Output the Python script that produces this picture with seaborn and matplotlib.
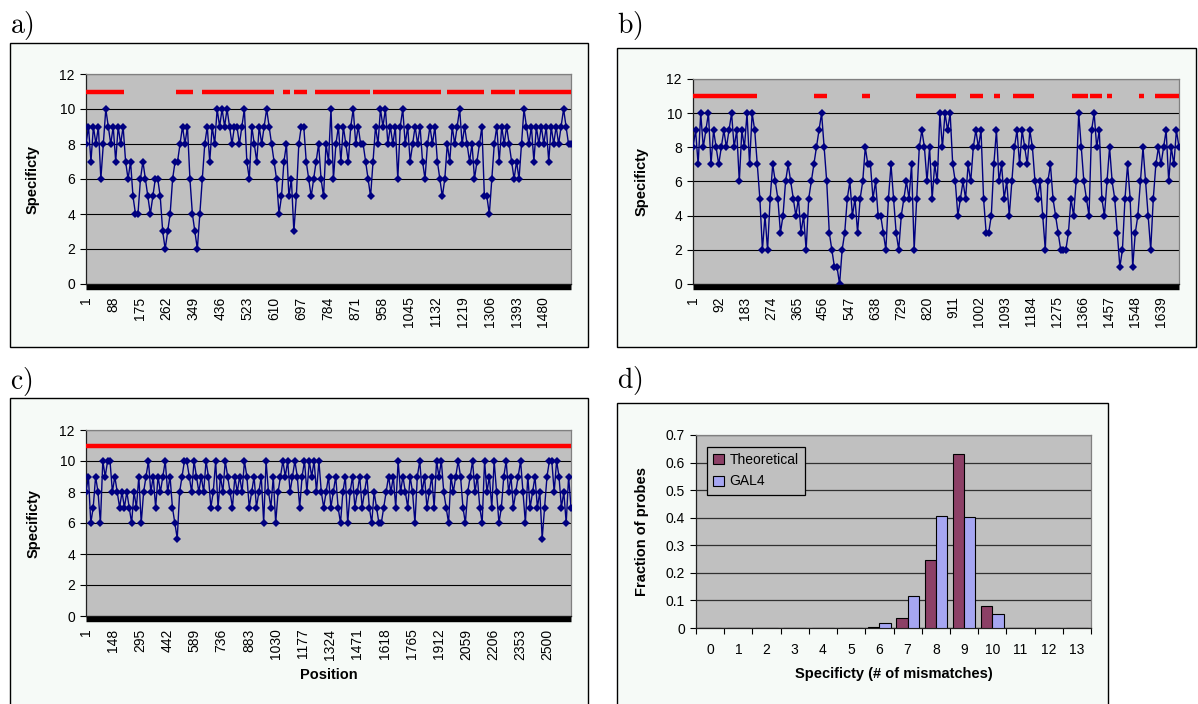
import numpy as np
import pandas as pd
import matplotlib
matplotlib.use("Agg")
import matplotlib.pyplot as plt
import seaborn as sns
from matplotlib.patches import Rectangle
from matplotlib.transforms import ScaledTranslation
from matplotlib.ticker import FuncFormatter, FixedLocator

# ------------------------------------------------------------------ data
# panel a : specificity sampled every 8 positions
a_step = 8
a_vals = [8, 9, 7, 9, 8, 9, 6, 8, 10, 9,
          8, 9, 7, 9, 8, 9, 7, 6, 7, 5,
          4, 4, 6, 7, 6, 5, 4, 5, 6, 6,
          5, 3, 2, 3, 4, 6, 7, 7, 8, 9,
          8, 9, 6, 4, 3, 2, 4, 6, 8, 9,
          7, 9, 8, 10, 9, 10, 9, 10, 9, 8,
          9, 9, 8, 9, 10, 7, 6, 9, 8, 7,
          9, 8, 9, 10, 9, 8, 7, 6, 4, 5,
          7, 8, 5, 6, 3, 5, 8, 9, 9, 7,
          6, 5, 6, 7, 8, 6, 5, 8, 7, 10,
          6, 8, 9, 7, 9, 8, 7, 9, 10, 8,
          9, 8, 8, 7, 6, 5, 7, 9, 8, 10,
          9, 10, 8, 9, 8, 9, 6, 9, 10, 8,
          9, 7, 8, 9, 8, 9, 7, 6, 8, 9,
          8, 9, 7, 6, 5, 6, 8, 7, 9, 8,
          9, 10, 8, 9, 8, 7, 8, 6, 7, 8,
          9, 5, 5, 4, 6, 8, 9, 7, 9, 8,
          9, 8, 7, 6, 7, 6, 8, 10, 9, 8,
          9, 7, 9, 8, 9, 8, 9, 7, 9, 8,
          9, 8, 9, 10, 9, 8, 8]
a_red_starts = [1, 291, 375, 639, 674, 742, 928, 1167, 1310, 1401]
a_red_ends = [125, 346, 610, 661, 717, 918, 1148, 1289, 1387, 1569]
a_ticks = [1, 88, 175, 262, 349, 436, 523, 610, 697, 784, 871, 958, 1045,
           1132, 1219, 1306, 1393, 1480]

# panel b : specificity sampled every 9 positions
b_step = 9
b_vals = [8, 9, 7, 10, 8, 9, 10, 7, 9, 8,
          7, 8, 9, 8, 9, 10, 8, 9, 6, 9,
          8, 10, 7, 10, 9, 7, 5, 2, 4, 2,
          5, 7, 6, 5, 3, 4, 6, 7, 6, 5,
          4, 5, 3, 4, 2, 5, 6, 7, 8, 9,
          10, 8, 6, 3, 2, 1, 1, 0, 2, 3,
          5, 6, 4, 5, 3, 5, 6, 8, 7, 7,
          5, 6, 4, 4, 3, 2, 5, 7, 5, 3,
          2, 4, 5, 6, 5, 7, 2, 5, 8, 9,
          8, 6, 8, 5, 7, 6, 10, 8, 10, 9,
          10, 7, 6, 4, 5, 6, 5, 7, 6, 8,
          9, 8, 9, 5, 3, 3, 4, 7, 9, 6,
          7, 5, 6, 4, 6, 8, 9, 7, 9, 8,
          7, 9, 8, 6, 5, 6, 4, 2, 6, 7,
          5, 4, 3, 2, 2, 2, 3, 5, 4, 6,
          10, 8, 6, 5, 4, 9, 10, 8, 9, 5,
          4, 6, 8, 6, 5, 3, 1, 2, 5, 7,
          5, 1, 3, 4, 6, 8, 6, 4, 2, 5,
          7, 8, 7, 8, 9, 6, 8, 7, 9, 8]
b_red_starts = [1, 423, 592, 782, 970, 1054, 1120, 1329, 1389, 1449, 1563, 1619]
b_red_ends = [224, 470, 620, 921, 1017, 1074, 1194, 1382, 1433, 1468, 1581, 1702]
b_ticks = [1, 92, 183, 274, 365, 456, 547, 638, 729, 820, 911, 1002, 1093,
           1184, 1275, 1366, 1457, 1548, 1639]

# panel c : specificity sampled every 13 positions
c_step = 13
c_vals = [8, 9, 6, 7, 9, 8, 6, 10, 9, 10,
          10, 8, 9, 8, 7, 8, 7, 8, 7, 6,
          8, 7, 9, 6, 8, 9, 10, 8, 9, 7,
          9, 8, 9, 10, 8, 9, 7, 6, 5, 8,
          9, 10, 10, 9, 8, 10, 9, 8, 9, 8,
          10, 9, 7, 8, 10, 7, 9, 8, 10, 9,
          8, 7, 9, 8, 9, 8, 10, 9, 7, 8,
          9, 7, 8, 9, 6, 10, 8, 7, 9, 6,
          8, 9, 10, 9, 10, 8, 9, 10, 9, 7,
          9, 10, 8, 10, 9, 10, 8, 10, 8, 7,
          8, 9, 7, 8, 9, 7, 6, 8, 9, 6,
          8, 9, 7, 8, 9, 7, 8, 9, 7, 6,
          8, 7, 6, 6, 7, 8, 9, 8, 9, 7,
          10, 8, 9, 8, 7, 9, 8, 6, 9, 10,
          8, 9, 7, 8, 9, 7, 10, 9, 10, 8,
          7, 6, 9, 8, 9, 10, 9, 7, 6, 8,
          9, 10, 8, 9, 7, 6, 10, 8, 9, 7,
          10, 8, 6, 7, 9, 10, 8, 9, 7, 8,
          9, 10, 8, 6, 9, 7, 8, 9, 7, 8,
          5, 7, 9, 10, 10, 8, 10, 9, 7, 8,
          6, 9, 7]
c_red_starts = [1]
c_red_ends = [2627]
c_ticks = [1, 148, 295, 442, 589, 736, 883, 1030, 1177, 1324, 1471, 1618,
           1765, 1912, 2059, 2206, 2353, 2500]

# panel d : histogram of specificity
d_categories = ["0", "1", "2", "3", "4", "5", "6", "7", "8", "9", "10",
                "11", "12", "13"]
d_theoretical = [0, 0, 0, 0, 0, 0, 0.004, 0.036, 0.247, 0.631, 0.079, 0, 0, 0]
d_gal4 = [0, 0, 0, 0, 0, 0, 0.019, 0.115, 0.408, 0.403, 0.051, 0, 0, 0]
d_series_names = ["Theoretical", "GAL4"]

# ------------------------------------------------------------------ style
NAVY = "#000080"
RED = "#FF0000"
PLOT_BG = "#C0C0C0"
BOX_BG = "#F6FAF7"
FONT = ["Liberation Sans", "DejaVu Sans"]

plt.rcParams["font.family"] = FONT
plt.rcParams["mathtext.fontset"] = "cm"
plt.rcParams["font.size"] = 10

W, H = 1198, 704
fig = plt.figure(figsize=(W / 100, H / 100), dpi=100)
fig.patch.set_facecolor("white")


def fx(px):
    return px / W


def fy(py):
    return 1 - py / H


def add_box(x0, y0, x1, y1):
    fig.patches.append(Rectangle((fx(x0), fy(y1)), fx(x1) - fx(x0), fy(y0) - fy(y1),
                                 transform=fig.transFigure, facecolor=BOX_BG,
                                 edgecolor="black", lw=1.0, zorder=-10))


def add_axes(x0, y0, x1, y1):
    ax = fig.add_axes([fx(x0), fy(y1), fx(x1) - fx(x0), fy(y0) - fy(y1)])
    ax.set_zorder(2)
    ax.set_facecolor(PLOT_BG)
    for s in ("top", "right"):
        ax.spines[s].set_color("#808080")
        ax.spines[s].set_linewidth(0.9)
    ax.spines["left"].set_color("#202020")
    ax.spines["left"].set_linewidth(0.9)
    ax.spines["bottom"].set_color("#202020")
    ax.spines["bottom"].set_linewidth(0.9)
    return ax


def line_panel(ax, vals, step, red_starts, red_ends, ticks, xlabel=None):
    pos = 1 + step * np.arange(len(vals))
    df = pd.DataFrame({"pos": pos, "spec": vals})
    sns.lineplot(data=df, x="pos", y="spec", ax=ax, color=NAVY, lw=1.0,
                 marker="D", markersize=3.6, markeredgewidth=0,
                 markerfacecolor=NAVY, estimator=None, sort=False, zorder=3)
    ax.hlines([11] * len(red_starts), red_starts, red_ends, colors=RED,
              lw=3.2, capstyle="butt", zorder=4)
    ax.set_xlim(pos[0], pos[-1])
    ax.set_ylim(0, 12)
    ax.set_yticks(range(0, 13, 2))
    ax.yaxis.grid(True, color="black", lw=0.8)
    ax.set_axisbelow(True)
    ax.set_xticks(ticks)
    ax.set_xticklabels([str(t) for t in ticks], rotation=90, fontsize=10)
    ax.tick_params(axis="x", length=0, pad=9)
    ax.tick_params(axis="y", length=4, width=0.8, pad=4, labelsize=10,
                   direction="out")
    # thick black base line at zero
    trans = ax.get_yaxis_transform() + ScaledTranslation(0, -2.6 / 100, fig.dpi_scale_trans)
    ax.plot([0, 1], [0, 0], transform=trans, color="black", lw=3.9,
            solid_capstyle="butt", clip_on=False, zorder=5)
    ax.set_xlabel("")
    ax.set_ylabel("Specificty", fontsize=10.5, fontweight="bold")
    if xlabel:
        ax.text(0.5, -0.317, xlabel, transform=ax.transAxes, ha="center",
                va="center", fontsize=10.5, fontweight="bold")


# ---- panel a
add_box(10, 43, 588, 347)
ax_a = add_axes(86, 74, 571, 284)
line_panel(ax_a, a_vals, a_step, a_red_starts, a_red_ends, a_ticks)
ax_a.yaxis.set_label_coords(-0.095, 0.5)

# ---- panel b
add_box(617, 48, 1196, 347)
ax_b = add_axes(693, 79, 1179, 284)
line_panel(ax_b, b_vals, b_step, b_red_starts, b_red_ends, b_ticks)
ax_b.yaxis.set_label_coords(-0.091, 0.5)

# ---- panel c
add_box(10, 398, 588, 712)
ax_c = add_axes(86, 430, 571, 616)
line_panel(ax_c, c_vals, c_step, c_red_starts, c_red_ends, c_ticks, xlabel="Position")
ax_c.yaxis.set_label_coords(-0.093, 0.5)

# ---- panel d
add_box(617, 403, 1108, 712)
ax_d = add_axes(696, 435, 1091, 628)
d_df = pd.DataFrame({
    "spec": d_categories * 2,
    "frac": d_theoretical + d_gal4,
    "series": [d_series_names[0]] * len(d_categories) + [d_series_names[1]] * len(d_categories),
})
sns.barplot(data=d_df, x="spec", y="frac", hue="series", order=d_categories,
            hue_order=d_series_names, palette=["#993366", "#9999FF"],
            width=0.8, gap=0, edgecolor="black", linewidth=0.8, ax=ax_d,
            zorder=3)
ax_d.set_ylim(0, 0.7)
ax_d.set_xlim(-0.5, len(d_categories) - 0.5)
ax_d.set_yticks(np.arange(0, 0.71, 0.1))
ax_d.yaxis.set_major_formatter(FuncFormatter(lambda v, p: "0" if abs(v) < 1e-9 else f"{v:.1f}"))
ax_d.yaxis.grid(True, color="#303030", lw=0.9)
ax_d.set_axisbelow(True)
ax_d.tick_params(axis="y", length=4, width=0.8, pad=4, labelsize=10)
ax_d.tick_params(axis="x", which="major", length=0, pad=11, labelsize=10)
ax_d.xaxis.set_minor_locator(FixedLocator(np.arange(-0.5, len(d_categories), 1.0)))
ax_d.tick_params(axis="x", which="minor", length=4, width=0.8, direction="out")
ax_d.set_xlabel("")
ax_d.set_ylabel("Fraction of probes", fontsize=10.5, fontweight="bold")
ax_d.yaxis.set_label_coords(-0.12, 0.5)
ax_d.text(0.5, -0.238, "Specificty (# of mismatches)", transform=ax_d.transAxes,
          ha="center", va="center", fontsize=10.5, fontweight="bold")
leg = ax_d.legend(loc="upper left", bbox_to_anchor=(0.028, 0.94), frameon=True,
                  fancybox=False, edgecolor="black", facecolor=PLOT_BG,
                  framealpha=1, fontsize=10, handlelength=0.75, handleheight=0.75,
                  handletextpad=0.4, labelspacing=0.55, borderpad=0.45,
                  borderaxespad=0)
leg.get_frame().set_linewidth(0.9)

# ---- panel letters
for txt, x, y in [("a)", 10, 26), ("b)", 617, 25), ("c)", 10, 382), ("d)", 617, 381)]:
    fig.text(fx(x), fy(y), r"$\mathrm{" + txt + "}$", fontsize=20,
             ha="left", va="center")

fig.savefig("out.png", dpi=100, facecolor="white")
